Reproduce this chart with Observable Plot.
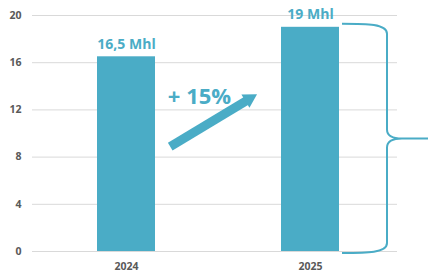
<!DOCTYPE html>
<html><head><meta charset="utf-8">
<script src="https://cdn.jsdelivr.net/npm/d3@7"></script>
<script src="https://cdn.jsdelivr.net/npm/@observablehq/plot@0.6"></script>
<style>html,body{margin:0;padding:0;background:#fff;} #chart{width:428px;height:272px;overflow:hidden}</style>
</head><body><div id="chart"></div>
<script>
// ---- data ----
const years = ["2024", "2025"];
const volumes = [16.5, 19];
const volumeLabels = ["16,5 Mhl", "19 Mhl"];
const yTicks = [0, 4, 8, 12, 16, 20];
// growth arrow annotation (in value units)
const growthFrom = ["2024"];
const growthTo = ["2025"];
const growthStartValue = [6.67];
const growthEndValue = [16.03];
const growthHeadValue = [12.94];
const growthTextValue = [12.46];
const growthLabels = ["+ 15%"];
// brace annotation around the last bar
const braceYear = ["2025"];
const braceFrom = [0];
const braceTo = [19];

const teal = "#4AACC6";
const data = years.map((y, i) => ({year: y, value: volumes[i], label: volumeLabels[i]}));
const growth = growthFrom.map((f, i) => ({from: f, to: growthTo[i], y1: growthStartValue[i], y2: growthEndValue[i], head: growthHeadValue[i], ty: growthTextValue[i], label: growthLabels[i]}));
const braces = braceYear.map((b, i) => ({year: b, lo: braceFrom[i], hi: braceTo[i]}));

function braceMark(index, scales) {
  const {x, y} = scales;
  const ns = "http://www.w3.org/2000/svg";
  const g = document.createElementNS(ns, "g");
  for (const b of braces) {
    const L = x(b.year) + x.bandwidth() + 3;
    const S = L + 45;
    const Tip = L + 86;
    const T = y(b.hi) - 3;
    const B = y(b.lo) + 2;
    const M = (T + B) / 2;
    const r = 10, r2 = 9;
    const d = `M${L},${T} C${S - 20},${T} ${S},${T} ${S},${T + r} L${S},${M - r2} Q${S},${M} ${S + r2 + 6},${M} L${Tip},${M} M${S + r2 + 6},${M} Q${S},${M} ${S},${M + r2} L${S},${B - r} C${S},${B} ${S - 20},${B} ${L},${B}`;
    const p = document.createElementNS(ns, "path");
    p.setAttribute("d", d);
    p.setAttribute("fill", "none");
    p.setAttribute("stroke", teal);
    p.setAttribute("stroke-width", "2");
    g.appendChild(p);
  }
  return g;
}

const chart = Plot.plot({
  width: 428,
  height: 272,
  marginLeft: 32,
  marginRight: 31,
  marginTop: 15,
  marginBottom: 21,
  style: {fontFamily: "'Open Sans', sans-serif", fontSize: "10.5px", fontWeight: 700, color: "#595959", background: "#fff"},
  x: {domain: years, paddingInner: 0.6865, paddingOuter: 0.33, align: 0.525, label: null, tickSize: 0, tickPadding: 11},
  y: {domain: [0, 20], ticks: yTicks, label: null, tickSize: 0, tickPadding: 11},
  marks: [
    Plot.ruleY(yTicks, {stroke: "#d9d9d9", strokeWidth: 1}),
    Plot.barY(data, {x: "year", y: "value", fill: teal}),
    Plot.text(data, {x: "year", y: "value", text: "label", dy: -8, lineAnchor: "bottom", fill: teal, fontSize: 14, fontWeight: 700}),
    Plot.arrow(growth, {x1: "from", y1: "y1", x2: "to", y2: "y2", stroke: teal, strokeWidth: 9, strokeLinecap: "butt", headLength: 0, insetStart: 51, insetEnd: 74.5, strokeOpacity: 1}),
    Plot.dot(growth, {x: "to", y: "head", dx: -61.2, symbol: "triangle", r: 5.8, fill: teal, stroke: "none", rotate: 59}),
    Plot.text(growth, {x: "from", y: "ty", text: "label", dx: 73, lineAnchor: "bottom", fill: teal, fontSize: 22, fontWeight: 700}),
    braceMark
  ]
});
document.getElementById("chart").appendChild(chart);
</script>
</body></html>
